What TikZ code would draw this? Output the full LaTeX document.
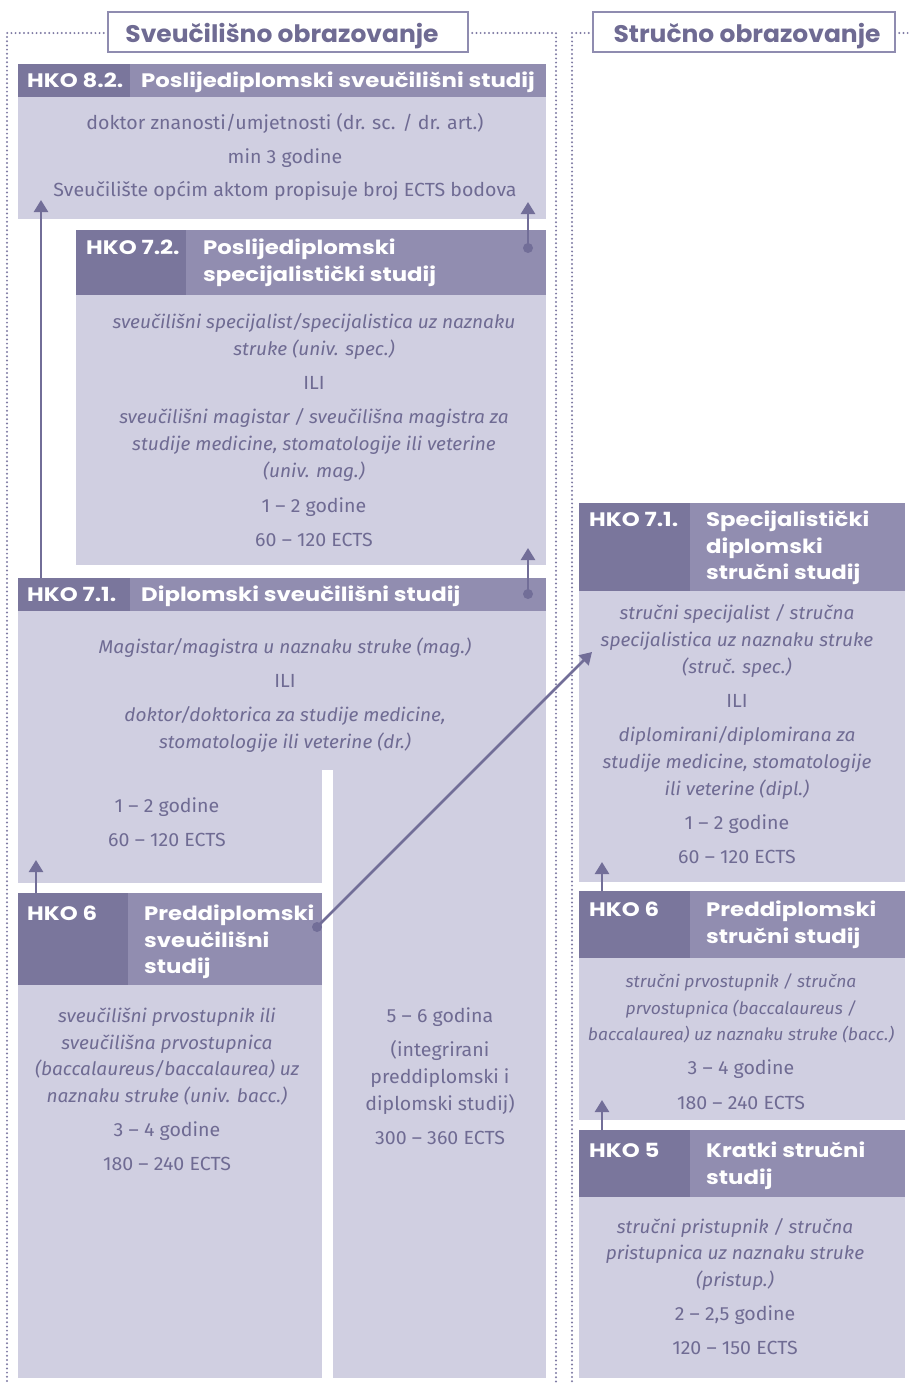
\documentclass[tikz,border=0pt]{standalone}
\usepackage{fontspec}
\setmainfont{Fira Sans}[FakeStretch=1.03]
\newfontfamily\headfont{Poppins}[FakeStretch=1.17]
\newfontfamily\titlefont{Poppins}[FakeStretch=1.04]
\usetikzlibrary{arrows.meta}
\definecolor{hkodark}{HTML}{7A769C}
\definecolor{hkolight}{HTML}{918DB0}
\definecolor{bodybg}{HTML}{D0CFE1}
\definecolor{txt}{HTML}{6F6B93}
\definecolor{arr}{HTML}{726E98}
\definecolor{dotc}{HTML}{7F7BA3}
\definecolor{boxline}{HTML}{8F8CB0}
\newcounter{tl}
\newcommand\bl[4][]{\stepcounter{tl}\node[btxt,#1] (t\thetl) at (#2,#3) {#4};}
\newcommand\il[4][]{\stepcounter{tl}\node[btxt,font=\fontsize{18.5}{22}\selectfont\itshape,#1] (t\thetl) at (#2,#3) {#4};}
\tikzset{
  btxt/.style={font=\fontsize{19}{22}\selectfont, text=txt, inner sep=0, anchor=base},
  htxt/.style={font=\headfont\bfseries\fontsize{19.5}{22}\selectfont, text=white, inner sep=0, anchor=base west},
  ttxt/.style={font=\titlefont\bfseries\fontsize{24}{28}\selectfont, text=txt, inner sep=0, anchor=base},
  titlebox/.style={draw=boxline, line width=2pt, fill=white},
  arrowline/.style={draw=arr, line width=2.5pt, -{Triangle[width=14pt,length=12pt]}},
  dotend/.style={circle, fill=arr, inner sep=0, minimum size=10pt},
  frameline/.style={draw=dotc, line width=2.2pt, dash pattern=on 0pt off 4.2pt, line cap=round},
}
\begin{document}
\begin{tikzpicture}[x=1pt,y=-1pt]
\useasboundingbox (0,0) rectangle (909,1384);
% frames
\draw[frameline] (108,33) -- (7,33) -- (7,1384);
\draw[frameline] (468,33) -- (556,33) -- (556,1384);
\draw[frameline] (593,33) -- (572,33) -- (572,1384);
\draw[frameline] (895,33) -- (909,33);
\draw[titlebox] (108,12) rectangle (468,52);
\node[ttxt] (tsveu) at (282,42) {Sveučilišno obrazovanje};
\draw[titlebox] (593,12) rectangle (895,52);
\node[ttxt] (tstr) at (747,42) {Stručno obrazovanje};

% HKO 8.2
\fill[hkodark] (18,64) rectangle (130,97);
\fill[hkolight] (130,64) rectangle (546,97);
\fill[bodybg] (18,97) rectangle (546,219);
\node[htxt] (k82) at (27,87) {HKO 8.2.};
\node[htxt] (n82) at (141,87) {Poslijediplomski sveučilišni studij};
\bl{285}{129}{doktor znanosti/umjetnosti (dr. sc. / dr. art.)}
\bl{285}{163}{min 3 godine}
\bl{285}{196}{Sveučilište općim aktom propisuje broj ECTS bodova}

% HKO 7.2
\fill[hkodark] (76,230) rectangle (186,295);
\fill[hkolight] (186,230) rectangle (546,295);
\fill[bodybg] (76,295) rectangle (546,565);
\node[htxt] (k72) at (86,254) {HKO 7.2.};
\node[htxt] (n72a) at (203,254) {Poslijediplomski};
\node[htxt] (n72b) at (203,281) {specijalistički studij};
\il{314}{328}{sveučilišni specijalist/specijalistica uz naznaku}
\il{314}{355}{struke (univ. spec.)}
\bl{314}{389}{ILI}
\il{314}{423}{sveučilišni magistar / sveučilišna magistra za}
\il{314}{450}{studije medicine, stomatologije ili veterine}
\il{314}{477}{(univ. mag.)}
\bl{314}{512}{1 – 2 godine}
\bl{314}{546}{60 – 120 ECTS}

% HKO 7.1 university
\fill[hkodark] (18,578) rectangle (130,611);
\fill[hkolight] (130,578) rectangle (546,611);
\fill[bodybg] (18,611) rectangle (546,770);
\fill[bodybg] (18,770) rectangle (322,883);
\fill[bodybg] (333,770) rectangle (546,1378);
\node[htxt] (k71) at (27,601) {HKO 7.1.};
\node[htxt] (n71) at (141,601) {Diplomski sveučilišni studij};
\il{285}{653}{Magistar/magistra u naznaku struke (mag.)}
\bl{285}{687}{ILI}
\il{285}{721}{doktor/doktorica za studije medicine,}
\il{285}{748}{stomatologije ili veterine (dr.)}
\bl{167}{812}{1 – 2 godine}
\bl{167}{846}{60 – 120 ECTS}
\bl{440}{1022}{5 – 6 godina}
\bl{440}{1056}{(integrirani}
\bl{440}{1083}{preddiplomski i}
\bl{440}{1110}{diplomski studij)}
\bl{440}{1144}{300 – 360 ECTS}

% HKO 6 university
\fill[hkodark] (18,893) rectangle (128,985);
\fill[hkolight] (128,893) rectangle (322,985);
\fill[bodybg] (18,985) rectangle (322,1378);
\node[htxt] (k6) at (27,920) {HKO 6};
\node[htxt] (n6a) at (144,920) {Preddiplomski};
\node[htxt] (n6b) at (144,947) {sveučilišni};
\node[htxt] (n6c) at (144,973) {studij};
\il{167}{1022}{sveučilišni prvostupnik ili}
\il{167}{1049}{sveučilišna prvostupnica}
\il{167}{1075}{(baccalaureus/baccalaurea) uz}
\il{167}{1102}{naznaku struke (univ. bacc.)}
\bl{167}{1136}{3 – 4 godine}
\bl{167}{1170}{180 – 240 ECTS}

% right: HKO 7.1
\fill[hkodark] (579,503) rectangle (690,591);
\fill[hkolight] (690,503) rectangle (905,591);
\fill[bodybg] (579,591) rectangle (905,882);
\node[htxt] (rk71) at (589,526) {HKO 7.1.};
\node[htxt] (rn71a) at (706,526) {Specijalistički};
\node[htxt] (rn71b) at (706,553) {diplomski};
\node[htxt] (rn71c) at (706,579) {stručni studij};
\il{737}{619}{stručni specijalist / stručna}
\il{737}{646}{specijalistica uz naznaku struke}
\il{737}{673}{(struč. spec.)}
\bl{737}{707}{ILI}
\il{737}{741}{diplomirani/diplomirana za}
\il{737}{768}{studije medicine, stomatologije}
\il{737}{795}{ili veterine (dipl.)}
\bl{737}{829}{1 – 2 godine}
\bl{737}{863}{60 – 120 ECTS}

% right: HKO 6
\fill[hkodark] (579,891) rectangle (690,958);
\fill[hkolight] (690,891) rectangle (905,958);
\fill[bodybg] (579,958) rectangle (905,1120);
\node[htxt] (rk6) at (589,916) {HKO 6};
\node[htxt] (rn6a) at (706,916) {Preddiplomski};
\node[htxt] (rn6b) at (706,943) {stručni studij};
\il[font=\fontsize{17}{20}\selectfont\itshape]{741}{987}{stručni prvostupnik / stručna}
\il[font=\fontsize{17}{20}\selectfont\itshape]{741}{1014}{prvostupnica (baccalaureus /}
\il[font=\fontsize{17}{20}\selectfont\itshape]{741}{1040}{baccalaurea) uz naznaku struke (bacc.)}
\bl{741}{1074}{3 – 4 godine}
\bl{741}{1109}{180 – 240 ECTS}

% right: HKO 5
\fill[hkodark] (579,1130) rectangle (690,1197);
\fill[hkolight] (690,1130) rectangle (905,1197);
\fill[bodybg] (579,1197) rectangle (905,1378);
\node[htxt] (rk5) at (589,1157) {HKO 5};
\node[htxt] (rn5a) at (706,1157) {Kratki stručni};
\node[htxt] (rn5b) at (706,1184) {studij};
\il{735}{1233}{stručni pristupnik / stručna}
\il{735}{1259}{pristupnica uz naznaku struke}
\il{735}{1286}{(pristup.)}
\bl{735}{1320}{2 – 2,5 godine}
\bl{735}{1354}{120 – 150 ECTS}

% connectors
\coordinate (a1s) at (41,578);  \coordinate (a1e) at (41,200);
\node[dotend] (d72) at (528,248) {}; \coordinate (a2e) at (528,202);
\node[dotend] (d71) at (528,594) {}; \coordinate (a3e) at (528,548);
\coordinate (a4s) at (36,893);  \coordinate (a4e) at (36,860);
\node[dotend] (d6) at (317,927) {}; \coordinate (a5e) at (592,652);
\coordinate (a6s) at (602,891); \coordinate (a6e) at (602,862);
\coordinate (a7s) at (602,1130); \coordinate (a7e) at (602,1100);
\draw[arrowline] (a1s) -- (a1e);
\draw[arrowline] (d72.center) -- (a2e);
\draw[arrowline] (d71.center) -- (a3e);
\draw[arrowline] (a4s) -- (a4e);
\draw[arrowline] (d6.center) -- (a5e);
\draw[arrowline] (a6s) -- (a6e);
\draw[arrowline] (a7s) -- (a7e);
\end{tikzpicture}
\end{document}
